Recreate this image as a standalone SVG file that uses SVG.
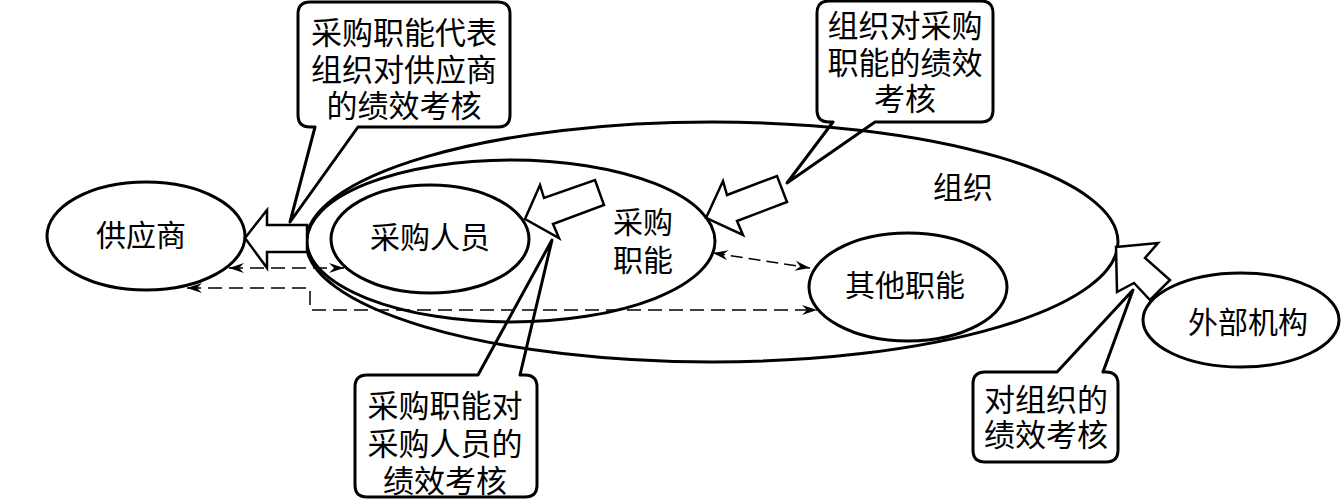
<svg xmlns="http://www.w3.org/2000/svg" width="1344" height="500" viewBox="0 0 1344 500">
<style>
.el{fill:none;stroke:#000;stroke-width:3}
.co{fill:none;stroke:#000;stroke-width:3;stroke-linejoin:round}
.ba{fill:#fff;stroke:#000;stroke-width:2.5;stroke-linejoin:miter}
.t{font-family:"Noto Sans CJK SC","Noto Sans CJK JP",sans-serif;font-size:30px;fill:#000;text-anchor:middle;dominant-baseline:central}
.ct{font-size:31px}
.dl{fill:none;stroke:#000;stroke-width:1.5;stroke-dasharray:14,7}
.dd{fill:none;stroke:#000;stroke-width:1.5;stroke-dasharray:12,6}
</style>
<defs>
<marker id="ah" markerUnits="userSpaceOnUse" markerWidth="16" markerHeight="10" refX="15" refY="5" orient="auto-start-reverse">
<path d="M0,0 L15,5 L0,10 L5,5 Z" fill="#000"/>
</marker>
</defs>
<g id="org"><ellipse class="el" cx="712" cy="242" rx="406" ry="120"/><text class="t" x="963" y="185">组织</text></g>
<g id="purchasing-function"><ellipse class="el" cx="511" cy="241" rx="204" ry="81"/><text class="t" x="643" y="220">采购</text><text class="t" x="643" y="258">职能</text></g>
<g id="purchasing-staff"><ellipse class="el" cx="430" cy="239" rx="99" ry="54"/><text class="t" x="430" y="235">采购人员</text></g>
<g id="supplier"><ellipse class="el" cx="146" cy="236" rx="99" ry="54"/><text class="t" x="141" y="233">供应商</text></g>
<g id="other-functions"><ellipse class="el" cx="908" cy="287" rx="99" ry="54"/><text class="t" x="905" y="283">其他职能</text></g>
<g id="external"><ellipse class="el" cx="1241" cy="320" rx="98" ry="47"/><text class="t" x="1248" y="320">外部机构</text></g>
<g id="block-arrows">
<polygon class="ba" points="245,238 267,210 267,225 307,225 307,252 267,252 267,268"/>
<polygon class="ba" points="525,219 540,185 544,198 595,180 604,205 553,224 559,238"/>
<polygon class="ba" points="706,218 723,181 727,195 777,176 787,202 737,221 743,235"/>
<polygon class="ba" points="1116,247 1158,243 1145,258 1170,280 1150,300 1134,283 1117,292"/>
</g>
<g id="callout-supplier"><path class="co" d="M310,2 H498 Q510,2 510,14 V115 Q510,127 498,127 H358 L290,222 L315,127 H310 Q298,127 298,115 V14 Q298,2 310,2 Z"/>
<text class="t ct" x="404" y="30">采购职能代表</text><text class="t ct" x="404" y="67">组织对供应商</text><text class="t ct" x="404" y="103">的绩效考核</text></g>
<g id="callout-function"><path class="co" d="M829,1 H981 Q993,1 993,13 V110 Q993,122 981,122 H875 L787,183 L833,122 H829 Q817,122 817,110 V13 Q817,1 829,1 Z"/>
<text class="t ct" x="905" y="23">组织对采购</text><text class="t ct" x="905" y="60">职能的绩效</text><text class="t ct" x="905" y="96">考核</text></g>
<g id="callout-staff"><path class="co" d="M367,375 H478 L552,240 L520,375 H525 Q537,375 537,387 V485 Q537,497 525,497 H367 Q355,497 355,485 V387 Q355,375 367,375 Z"/>
<text class="t ct" x="445" y="403">采购职能对</text><text class="t ct" x="445" y="441">采购人员的</text><text class="t ct" x="445" y="478">绩效考核</text></g>
<g id="callout-org"><path class="co" d="M985,372 H1057 L1133,290 L1103,372 H1106 Q1118,372 1118,384 V450 Q1118,462 1106,462 H985 Q973,462 973,450 V384 Q973,372 985,372 Z"/>
<text class="t ct" x="1046" y="397">对组织的</text><text class="t ct" x="1046" y="432">绩效考核</text></g>
<g id="connectors">
<path class="dl" d="M229,268 H344" marker-start="url(#ah)" marker-end="url(#ah)"/>
<path class="dl" d="M187,288 H310 V310 H817" marker-start="url(#ah)" marker-end="url(#ah)"/>
<path class="dd" d="M713,253 L810,268" marker-start="url(#ah)" marker-end="url(#ah)"/>
</g>
</svg>
